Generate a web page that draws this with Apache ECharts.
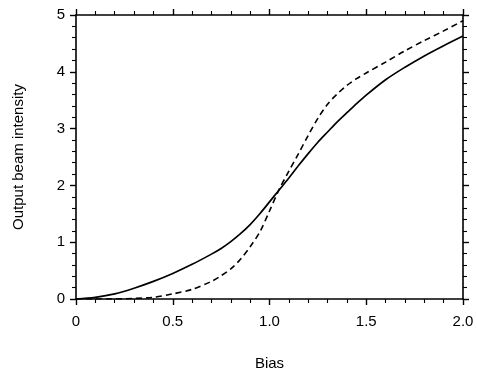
<!DOCTYPE html>
<html>
<head>
<meta charset="utf-8">
<script src="https://cdn.jsdelivr.net/npm/echarts@6/dist/echarts.min.js"></script>
<style>html,body{margin:0;padding:0;background:#fff}#c{width:477px;height:377px}</style>
</head>
<body>
<div id="c"></div>
<script>
var biasValues   = [0,   0.1, 0.2, 0.3, 0.4, 0.5, 0.6, 0.7, 0.75,0.8, 0.85,0.9, 0.95,1.0, 1.05,1.1, 1.15,1.2, 1.25,1.3, 1.35,1.4, 1.45,1.5, 1.6, 1.7, 1.8, 1.9, 2.0];
var solidValues  = [0,   0.03,0.09,0.19,0.31,0.45,0.61,0.79,0.89,1.01,1.15,1.31,1.5, 1.71,1.92,2.13,2.35,2.56,2.76,2.94,3.12,3.28,3.44,3.59,3.86,4.08,4.28,4.46,4.63];
var dashedValues = [0,   0,   0,   0.01,0.03,0.09,0.17,0.31,0.41,0.53,0.7, 0.92,1.18,1.55,1.93,2.25,2.56,2.88,3.18,3.43,3.61,3.76,3.88,3.98,4.17,4.37,4.55,4.72,4.9];
var xTickLabels = {"0":"0","0.5":"0.5","1":"1.0","1.5":"1.5","2":"2.0"};
var yTickLabels = ["0","1","2","3","4","5"];

function pairs(xs, ys){ return xs.map(function(x,i){ return [x, ys[i]]; }); }
var font = "'Liberation Sans', Arial, sans-serif";
var lineC = '#000';
var chart = echarts.init(document.getElementById('c'));
var baseAxisLine = {show:true, onZero:false, lineStyle:{color:lineC, width:1.6}};
var tick = {show:true, length:6, lineStyle:{color:lineC, width:1.4}};
var minor = {show:true, splitNumber:5, length:4, lineStyle:{color:lineC, width:1.1}};
chart.setOption({
  animation:false,
  backgroundColor:'#fff',
  grid:{left:76, right:14, top:15, bottom:78, containLabel:false},
  xAxis:[{
    type:'value', min:0, max:2, interval:0.5, position:'bottom',
    name:'Bias', nameLocation:'middle', nameGap:57,
    nameTextStyle:{fontFamily:font, fontSize:15, color:'#000'},
    axisLine:baseAxisLine, axisTick:tick, minorTick:minor, splitLine:{show:false},
    axisLabel:{fontFamily:font, fontSize:15, color:'#000', margin:15,
      formatter:function(v){ return xTickLabels[String(v)]; }}
  },{
    type:'value', min:0, max:2, interval:0.5, position:'top',
    axisLine:baseAxisLine, axisTick:tick, minorTick:minor, splitLine:{show:false},
    axisLabel:{show:false}
  }],
  yAxis:[{
    type:'value', min:0, max:5, interval:1, position:'left',
    name:'Output beam intensity', nameLocation:'middle', nameGap:50,
    nameTextStyle:{fontFamily:font, fontSize:15, color:'#000'},
    axisLine:baseAxisLine, axisTick:tick, minorTick:minor, splitLine:{show:false},
    axisLabel:{fontFamily:font, fontSize:15, color:'#000', margin:11,
      formatter:function(v){ return yTickLabels[Math.round(v)]; }}
  },{
    type:'value', min:0, max:5, interval:1, position:'right',
    axisLine:baseAxisLine, axisTick:tick, minorTick:minor, splitLine:{show:false},
    axisLabel:{show:false}
  }],
  series:[{
    type:'line', data:pairs(biasValues, solidValues), smooth:0.3, showSymbol:false,
    lineStyle:{color:'#000', width:1.7}
  },{
    type:'line', data:pairs(biasValues, dashedValues), smooth:0.3, showSymbol:false,
    lineStyle:{color:'#000', width:1.6, type:[6,4]}
  }]
});
</script>
</body>
</html>
